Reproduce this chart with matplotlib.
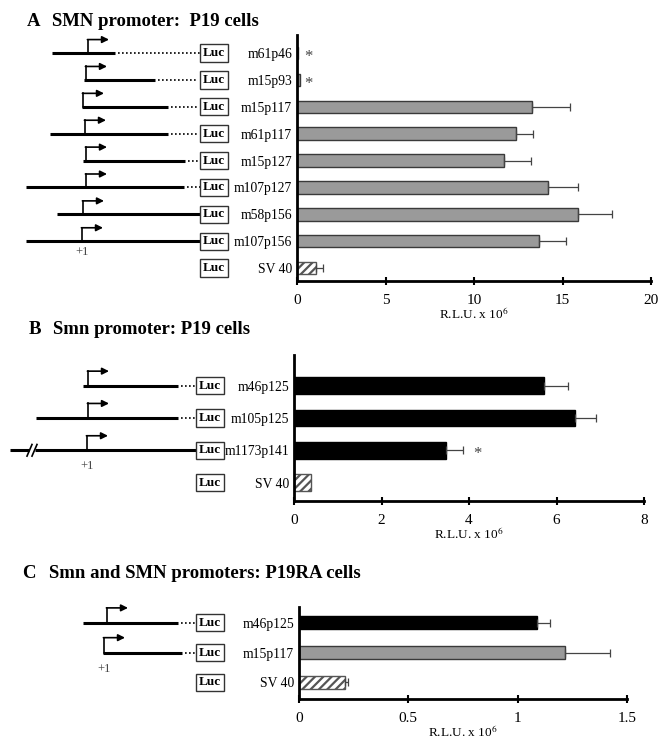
import matplotlib.pyplot as plt

plt.rcParams['font.family'] = ['Liberation Serif', 'DejaVu Serif']
plt.rcParams['mathtext.fontset'] = 'stix'
plt.rcParams['hatch.linewidth'] = 1.6

# ---- panel A: SMN promoter, P19 cells ----
a_names = ["m61p46", "m15p93", "m15p117", "m61p117", "m15p127",
           "m107p127", "m58p156", "m107p156", "SV 40"]
a_vals = [0.05, 0.15, 13.3, 12.4, 11.7, 14.2, 15.9, 13.7, 1.05]
a_err = [0.0, 0.0, 2.1, 0.95, 1.5, 1.7, 1.9, 1.5, 0.42]
a_kind = ["g", "g", "g", "g", "g", "g", "g", "g", "sv"]
a_star = [0, 1]
# schematic construct extents (diagram units): left, solid end, dotted end, TSS
a_left = [52, 84, 82, 50, 83, 26, 57, 26, None]
a_solid = [115, 155, 168, 168, 185, 184, 201, 201, None]
a_dot = [200, 198, 198, 198, 200, 200, 201, 201, None]
a_tss = [88, 86, 83, 85, 86, 86, 83, 82, None]

# ---- panel B: Smn promoter, P19 cells ----
b_names = ["m46p125", "m105p125", "m1173p141", "SV 40"]
b_vals = [5.71, 6.42, 3.47, 0.39]
b_err = [0.56, 0.49, 0.39, 0.0]
b_kind = ["k", "k", "k", "sv"]
b_star = [2]
b_left = [83, 36, 10, None]
b_solid = [178, 178, 198, None]
b_dot = [197, 197, 198, None]
b_tss = [88, 88, 87, None]
b_break = [None, None, 32, None]

# ---- panel C: Smn and SMN promoters, P19RA cells ----
c_names = ["m46p125", "m15p117", "SV 40"]
c_vals = [1.09, 1.217, 0.209]
c_err = [0.06, 0.206, 0.013]
c_kind = ["k", "g", "sv"]
c_left = [83, 103, None]
c_solid = [178, 182, None]
c_dot = [197, 197, None]
c_tss = [107, 104, None]

W, H = 663, 741
fig = plt.figure(figsize=(W / 100, H / 100), dpi=100)


def px_axes(x0, x1, y0, y1):
    return fig.add_axes([x0 / W, 1 - y1 / H, (x1 - x0) / W, (y1 - y0) / H])


def bar_panel(ax, names, vals, err, kind, xmax, ticks, ticklabels, ylim, bh, stars, star_x):
    n = len(names)
    ys = list(range(n))
    for i in ys:
        if kind[i] == "g":
            ax.barh(i, vals[i], height=bh, color="#9a9a9a", edgecolor="#3a3a3a", lw=1.0, zorder=2)
        elif kind[i] == "k":
            ax.barh(i, vals[i], height=bh, color="black", edgecolor="black", lw=1.0, zorder=2)
        else:
            ax.barh(i, vals[i], height=bh, color="white", edgecolor="#555555", hatch="////", lw=1.0, zorder=2)
        if err[i] > 0:
            ax.errorbar(vals[i], i, xerr=[[0], [err[i]]], fmt="none", ecolor="#444444",
                        elinewidth=0.9, capsize=3, capthick=0.9, zorder=3)
    for s in stars:
        ax.annotate("*", (star_x, s), xytext=(0, -3), textcoords="offset points",
                    fontsize=12, color="#444444", ha="center", va="center")
    ax.set_xlim(0, xmax)
    ax.set_ylim(*ylim)
    ax.set_yticks(ys)
    ax.set_yticklabels(names, fontsize=9.8)
    ax.set_xticks(ticks)
    ax.set_xticklabels(ticklabels, fontsize=11)
    ax.tick_params(axis="y", length=0, pad=3.5)
    ax.tick_params(axis="x", direction="inout", length=6, width=1.5, pad=6)
    for s in ["top", "right"]:
        ax.spines[s].set_visible(False)
    for s in ["left", "bottom"]:
        ax.spines[s].set_linewidth(2.0)
    ax.set_xlabel(r"R.L.U. x 10$^6$", fontsize=9.5, labelpad=0)


def diagram(ax, left, solid, dot, tss, luc_x, arrow_h, breaks=None, plus_row=None, plus_dy=0.4):
    ax.set_xlim(0, ax_w)
    ax.axis("off")
    for i in range(len(left)):
        ax.text(luc_x, i, "Luc", fontsize=9.5, fontweight="bold", ha="center", va="center",
                bbox=dict(boxstyle="square,pad=0.2", fc="white", ec="#333333", lw=1.0), zorder=5)
        if left[i] is None:
            continue
        if breaks is not None and breaks[i] is not None:
            b = breaks[i]
            ax.plot([left[i], b - 3], [i, i], color="black", lw=2.2, solid_capstyle="butt")
            ax.plot([b + 3, solid[i]], [i, i], color="black", lw=2.2, solid_capstyle="butt")
            for dx in (-2.5, 2.5):
                ax.plot([b + dx - 2.5, b + dx + 2.5], [i + 0.18, i - 0.18], color="black", lw=1.2)
        else:
            ax.plot([left[i], solid[i]], [i, i], color="black", lw=2.2, solid_capstyle="butt")
        if dot[i] > solid[i] + 1:
            ax.plot([solid[i] + 3, dot[i]], [i, i], color="black", lw=1.2, ls=(0, (1, 1.4)))
        t = tss[i]
        ax.plot([t, t], [i, i - arrow_h], color="black", lw=1.2)
        ax.annotate("", xy=(t + 21, i - arrow_h), xytext=(t - 0.6, i - arrow_h),
                    arrowprops=dict(arrowstyle="-|>", lw=1.2, color="black",
                                    mutation_scale=10, shrinkA=0, shrinkB=0))
    if plus_row is not None:
        ax.text(tss[plus_row], plus_row + plus_dy, "+1", fontsize=9, color="#444444",
                ha="center", va="center")


# panel A
axA = px_axes(297, 651, 35, 281)
bar_panel(axA, a_names, a_vals, a_err, a_kind, 20, [0, 5, 10, 15, 20],
          ["0", "5", "10", "15", "20"], (8.48, -0.67), 0.46, a_star, 0.65)
ax_w = 297
dA = px_axes(0, 297, 35, 281)
dA.set_ylim(axA.get_ylim())
diagram(dA, a_left, a_solid, a_dot, a_tss, 214, 0.5, plus_row=7, plus_dy=0.4)

# panel B
axB = px_axes(294, 644, 355, 501)
bar_panel(axB, b_names, b_vals, b_err, b_kind, 8, [0, 2, 4, 6, 8],
          ["0", "2", "4", "6", "8"], (3.57, -0.95), 0.52, b_star, 4.2)
ax_w = 294
dB = px_axes(0, 294, 355, 501)
dB.set_ylim(axB.get_ylim())
diagram(dB, b_left, b_solid, b_dot, b_tss, 210, 0.45, breaks=b_break, plus_row=2, plus_dy=0.5)

# panel C
axC = px_axes(299, 627, 607, 699)
bar_panel(axC, c_names, c_vals, c_err, c_kind, 1.5, [0, 0.5, 1, 1.5],
          ["0", "0.5", "1", "1.5"], (2.56, -0.53), 0.43, [], 0)
ax_w = 299
dC = px_axes(0, 299, 607, 699)
dC.set_ylim(axC.get_ylim())
diagram(dC, c_left, c_solid, c_dot, c_tss, 210, 0.5, plus_row=1, plus_dy=0.55)

# panel titles
title_kw = dict(fontsize=13.5, fontweight="bold", va="center", ha="left")
fig.text(27 / W, 1 - 21 / H, "A", **title_kw)
fig.text(52 / W, 1 - 21 / H, "SMN promoter:  P19 cells", **title_kw)
fig.text(29 / W, 1 - 330 / H, "B", **title_kw)
fig.text(53 / W, 1 - 330 / H, "Smn promoter: P19 cells", **title_kw)
fig.text(22 / W, 1 - 574 / H, "C", **title_kw)
fig.text(49 / W, 1 - 574 / H, "Smn and SMN promoters: P19RA cells", **title_kw)

fig.savefig("out.png", dpi=100)
